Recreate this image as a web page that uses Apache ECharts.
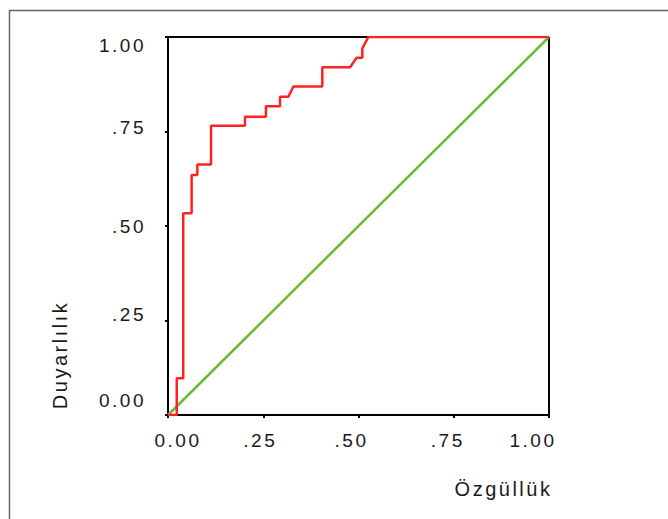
<!DOCTYPE html>
<html>
<head>
<meta charset="utf-8">
<script src="https://cdn.jsdelivr.net/npm/echarts@6/dist/echarts.min.js"></script>
<style>
html,body{margin:0;padding:0;background:#fff;}
#chart{width:668px;height:519px;letter-spacing:2.5px;}
</style>
</head>
<body>
<div id="chart"></div>
<script>
// 1 - specificity (x) and sensitivity (y) points of the ROC step curve
var rocX = [0, 0.023, 0.023, 0.040, 0.040, 0.062, 0.062, 0.077, 0.077, 0.113, 0.113, 0.202, 0.202, 0.257, 0.257, 0.294, 0.294, 0.316, 0.329, 0.405, 0.405, 0.478, 0.495, 0.510, 0.510, 0.526, 1.0];
var rocY = [0, 0, 0.097, 0.097, 0.534, 0.534, 0.635, 0.635, 0.663, 0.663, 0.765, 0.765, 0.789, 0.789, 0.817, 0.817, 0.842, 0.842, 0.869, 0.869, 0.920, 0.920, 0.945, 0.945, 0.970, 1.0, 1.0];
var refX = [0, 1];
var refY = [0, 1];
var tickValues = [0, 0.25, 0.5, 0.75, 1];
var tickLabels = ['0.00', '.25', '.50', '.75', '1.00'];
var xName = 'Özgüllük';
var yName = 'Duyarlılık';

function pairs(xs, ys){ return xs.map(function(x,i){ return [x, ys[i]]; }); }
function labelFor(v){
  var i = tickValues.findIndex(function(t){ return Math.abs(t - v) < 1e-6; });
  return i < 0 ? '' : tickLabels[i];
}
var xPad = { '0.00':[0,0,0,20], '.25':[0,6,0,0], '.50':[0,14,0,0], '.75':[0,12,0,0], '1.00':[0,32,0,0] };
var yPad = { '0.00':[0,0,30,0], '.25':[0,0,12,0], '.50':[0,0,0,0], '.75':[0,0,8,0], '1.00':[17,0,0,0] };
function richSet(pads){
  var r = {}, k = 0;
  Object.keys(pads).forEach(function(key){ r['p'+(k++)] = {padding: pads[key]}; });
  return r;
}
function fmt(pads){
  var keys = Object.keys(pads);
  return function(v){
    var s = labelFor(v);
    var k = keys.indexOf(s);
    return k < 0 ? s : '{p' + k + '|' + s + '}';
  };
}

var font = '"Liberation Sans", Arial, sans-serif';
var chart = echarts.init(document.getElementById('chart'), null, {renderer:'svg'});
chart.setOption({
  animation:false,
  backgroundColor:'#fff',
  grid:{left:168, right:119, top:37, bottom:104, containLabel:false, show:false},
  graphic:[{type:'rect', left:7, top:8, shape:{width:700, height:600}, style:{fill:'none', stroke:'#666', lineWidth:1.5}, silent:true, z:-10}],
  xAxis:{
    type:'value', min:0, max:1, interval:0.25,
    name:xName, nameLocation:'middle', nameGap:64,
    nameTextStyle:{fontFamily:font, fontSize:20, color:'#1a1a1a', padding:[0,0,0,290]},
    axisLine:{show:true, onZero:false, lineStyle:{color:'#000', width:2}},
    axisTick:{show:true, length:3, lineStyle:{color:'#000', width:2}},
    axisLabel:{fontFamily:font, fontSize:19, color:'#1a1a1a', margin:16, formatter:fmt(xPad), rich:richSet(xPad)},
    splitLine:{show:false}
  },
  yAxis:{
    type:'value', min:0, max:1, interval:0.25,
    name:yName, nameLocation:'middle', nameGap:98, nameRotate:90,
    nameTextStyle:{fontFamily:font, fontSize:20, color:'#1a1a1a', padding:[0,258,0,0]},
    axisLine:{show:true, onZero:false, lineStyle:{color:'#000', width:2}},
    axisTick:{show:true, length:3, lineStyle:{color:'#000', width:2}},
    axisLabel:{fontFamily:font, fontSize:19, color:'#1a1a1a', margin:22, formatter:fmt(yPad), rich:richSet(yPad)},
    splitLine:{show:false}
  },
  series:[
    {type:'line', data:pairs([0,1],[1,1]), symbol:'none', silent:true, lineStyle:{color:'#000', width:2}, z:1},
    {type:'line', data:pairs([1,1],[0,1]), symbol:'none', silent:true, lineStyle:{color:'#000', width:2}, z:1},
    {type:'line', data:pairs(refX, refY), symbol:'none', lineStyle:{color:'#66bb33', width:2.5}, z:2},
    {type:'line', data:pairs(rocX, rocY), symbol:'none', lineStyle:{color:'#ff2222', width:2.5}, z:3}
  ]
});
</script>
</body>
</html>
